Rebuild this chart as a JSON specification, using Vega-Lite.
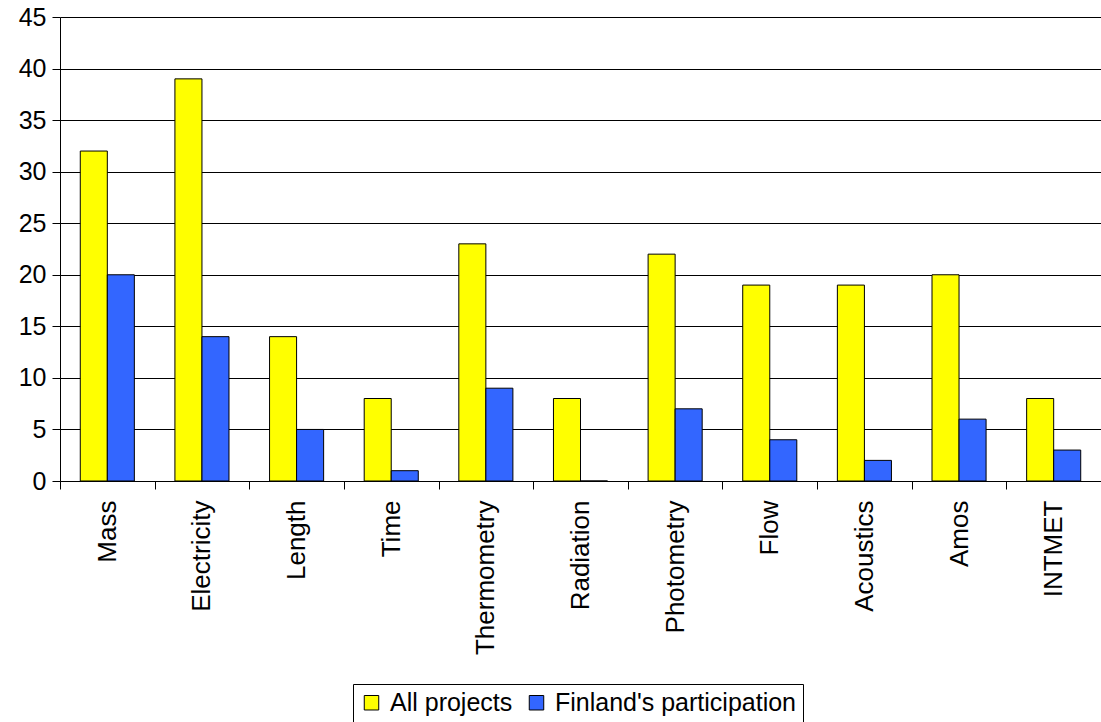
{
  "$schema": "https://vega.github.io/schema/vega-lite/v6.json",
  "autosize": "none",
  "width": 1041,
  "height": 464,
  "padding": {"left": 60, "top": 17, "right": 0, "bottom": 241},
  "background": "white",
  "config": {
    "font": "Liberation Sans",
    "view": {"stroke": null}
  },
  "data": {
    "values": [
      {"topic": "Mass", "series": "All projects", "value": 32},
      {"topic": "Mass", "series": "Finland's participation", "value": 20},
      {"topic": "Electricity", "series": "All projects", "value": 39},
      {"topic": "Electricity", "series": "Finland's participation", "value": 14},
      {"topic": "Length", "series": "All projects", "value": 14},
      {"topic": "Length", "series": "Finland's participation", "value": 5},
      {"topic": "Time", "series": "All projects", "value": 8},
      {"topic": "Time", "series": "Finland's participation", "value": 1},
      {"topic": "Thermometry", "series": "All projects", "value": 23},
      {"topic": "Thermometry", "series": "Finland's participation", "value": 9},
      {"topic": "Radiation", "series": "All projects", "value": 8},
      {"topic": "Radiation", "series": "Finland's participation", "value": 0},
      {"topic": "Photometry", "series": "All projects", "value": 22},
      {"topic": "Photometry", "series": "Finland's participation", "value": 7},
      {"topic": "Flow", "series": "All projects", "value": 19},
      {"topic": "Flow", "series": "Finland's participation", "value": 4},
      {"topic": "Acoustics", "series": "All projects", "value": 19},
      {"topic": "Acoustics", "series": "Finland's participation", "value": 2},
      {"topic": "Amos", "series": "All projects", "value": 20},
      {"topic": "Amos", "series": "Finland's participation", "value": 6},
      {"topic": "INTMET", "series": "All projects", "value": 8},
      {"topic": "INTMET", "series": "Finland's participation", "value": 3}
    ]
  },
  "mark": {"type": "bar", "stroke": "black", "strokeWidth": 1},
  "encoding": {
    "x": {
      "field": "topic",
      "type": "nominal",
      "sort": null,
      "scale": {"paddingInner": 0, "paddingOuter": 0},
      "axis": {
        "title": null,
        "labelAngle": -90,
        "labelAlign": "right",
        "labelBaseline": "middle",
        "labelFontSize": 26,
        "labelColor": "black",
        "labelPadding": 11,
        "labelLimit": 0,
        "tickSize": 8,
        "tickColor": "black",
        "domainColor": "black",
        "tickOffset": -47.3,
        "labelOffset": 47.3,
        "grid": false
      }
    },
    "xOffset": {
      "field": "series",
      "type": "nominal",
      "sort": ["All projects", "Finland's participation"],
      "scale": {"paddingInner": 0, "paddingOuter": 0.75}
    },
    "y": {
      "field": "value",
      "type": "quantitative",
      "scale": {"domain": [0, 45], "nice": false},
      "axis": {
        "title": null,
        "values": [0, 5, 10, 15, 20, 25, 30, 35, 40, 45],
        "labelFontSize": 25,
        "labelColor": "black",
        "labelPadding": 6,
        "tickSize": 8,
        "tickColor": "black",
        "domainColor": "black",
        "grid": true,
        "gridColor": "black",
        "gridOpacity": 1,
        "gridWidth": 1
      }
    },
    "color": {
      "field": "series",
      "type": "nominal",
      "sort": ["All projects", "Finland's participation"],
      "scale": {"domain": ["All projects", "Finland's participation"], "range": ["#FFFF00", "#3366FF"]},
      "legend": {
        "title": null,
        "orient": "none",
        "legendX": 293,
        "legendY": 667,
        "direction": "horizontal",
        "strokeColor": "black",
        "padding": 6,
        "symbolType": "square",
        "symbolSize": 210,
        "symbolStrokeColor": "black",
        "symbolStrokeWidth": 1,
        "symbolOpacity": 1,
        "labelFontSize": 25,
        "labelColor": "black",
        "labelOffset": 6,
        "labelLimit": 0,
        "columnPadding": 11
      }
    }
  }
}
